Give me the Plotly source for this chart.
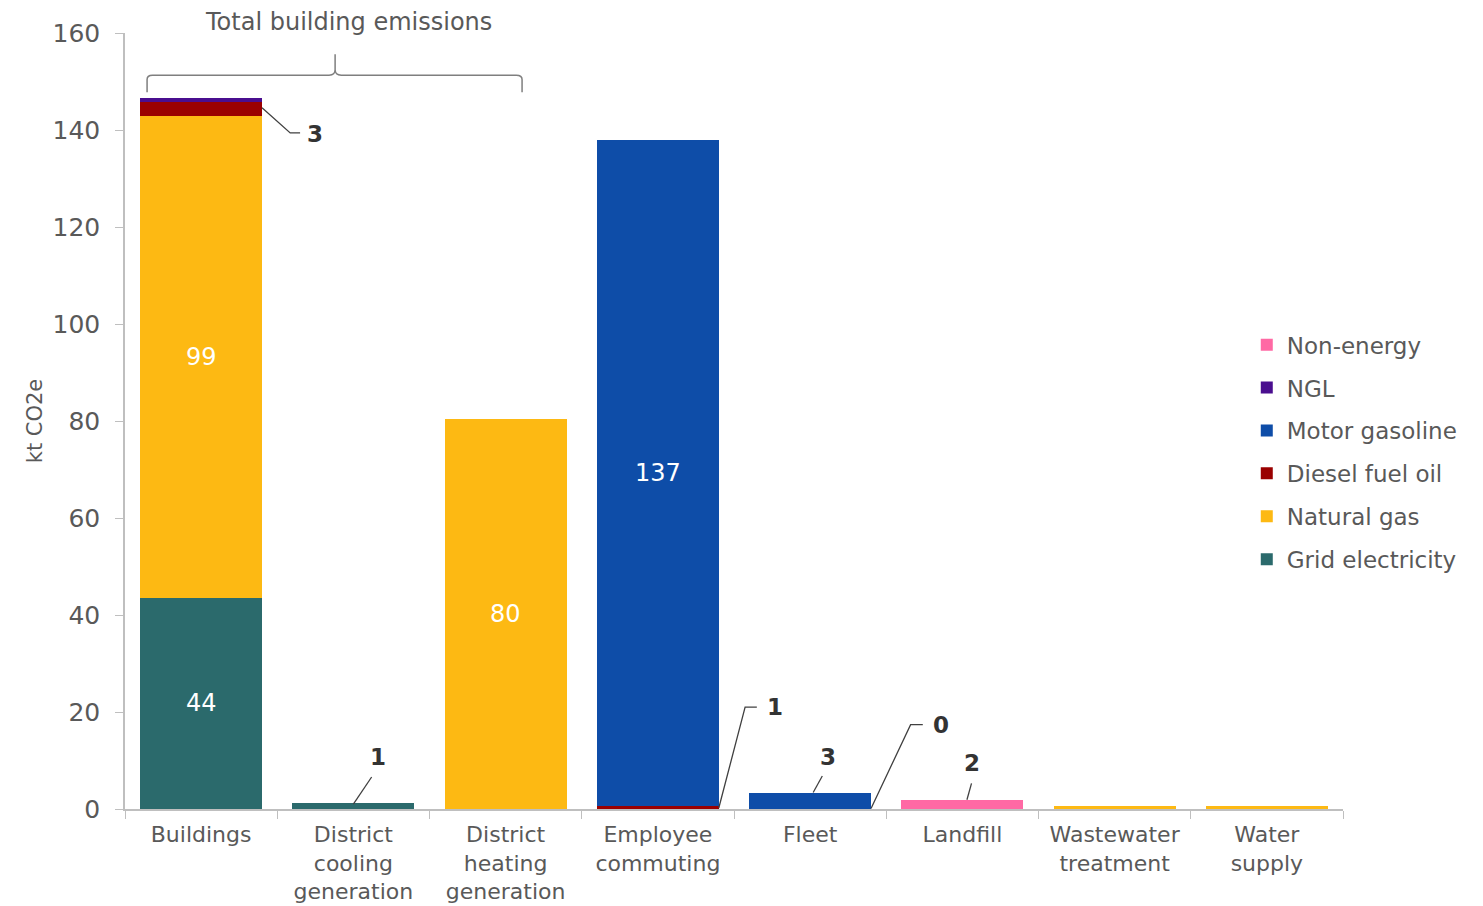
import plotly.graph_objects as go

categories = ["Buildings", "District<br>cooling<br>generation", "District<br>heating<br>generation",
              "Employee<br>commuting", "Fleet", "Landfill", "Wastewater<br>treatment", "Water<br>supply"]

grid_electricity = [43.6, 1.3, 0, 0, 0, 0, 0, 0]
natural_gas = [99.3, 0, 80.4, 0, 0, 0, 0.6, 0.6]
diesel_fuel_oil = [2.9, 0, 0, 0.6, 0.1, 0, 0, 0]
motor_gasoline = [0, 0, 0, 137.3, 3.2, 0, 0, 0]
ngl = [0.8, 0, 0, 0, 0, 0, 0, 0]
non_energy = [0, 0, 0, 0, 0, 1.9, 0, 0]

y_ticks = [0, 20, 40, 60, 80, 100, 120, 140, 160]

FONT = "DejaVu Sans"
GRAY = "#595959"

series = [
    ("Grid electricity", grid_electricity, "#2B6A6C"),
    ("Natural gas", natural_gas, "#FDB913"),
    ("Diesel fuel oil", diesel_fuel_oil, "#9A0000"),
    ("Motor gasoline", motor_gasoline, "#0E4DA8"),
    ("NGL", ngl, "#4A0E8F"),
    ("Non-energy", non_energy, "#FF69A4"),
]

fig = go.Figure()
n = len(series)
for i, (name, vals, col) in enumerate(series):
    fig.add_trace(go.Bar(x=categories, y=vals, name=name, marker_color=col,
                         marker_line_width=0, legendgroup=name, legendrank=n - i))

# white labels inside large segments
inner = [(0, grid_electricity[0] / 2, grid_electricity[0]),
         (0, grid_electricity[0] + natural_gas[0] / 2, natural_gas[0]),
         (2, natural_gas[2] / 2, natural_gas[2]),
         (3, diesel_fuel_oil[3] + motor_gasoline[3] / 2, motor_gasoline[3])]
for xi, yv, v in inner:
    fig.add_annotation(x=xi, y=yv, text=str(round(v)), showarrow=False,
                       font=dict(family=FONT, size=24, color="white"))

# outside labels with leader lines: (value, text x, text y, path)
outer = [
    (diesel_fuel_oil[0], 0.75, 139.2, "M 0.40,144.6 L 0.585,139.4 L 0.65,139.4"),
    (grid_electricity[1], 1.16, 10.7, "M 1.0,1.0 L 1.12,6.6"),
    (diesel_fuel_oil[3], 3.77, 21.0, "M 3.40,0.2 L 3.573,21.0 L 3.65,21.0"),
    (motor_gasoline[4], 4.12, 10.7, "M 4.02,3.4 L 4.08,6.8"),
    (diesel_fuel_oil[4], 4.86, 17.4, "M 4.40,0.1 L 4.66,17.4 L 4.74,17.4"),
    (non_energy[5], 5.06, 9.5, "M 5.03,1.9 L 5.06,5.3"),
]
for v, tx, ty, path in outer:
    fig.add_shape(type="path", path=path, xref="x", yref="y",
                  line=dict(color="#404040", width=1.3))
    fig.add_annotation(x=tx, y=ty, text="<b>" + str(round(v)) + "</b>", showarrow=False,
                       font=dict(family=FONT, size=23, color="#333333"))

# bracket for total building emissions
bracket = ("M -0.355,147.8 L -0.355,150.4 Q -0.355,151.3 -0.32,151.3 L 0.84,151.3 "
           "Q 0.88,151.3 0.88,152.4 L 0.88,155.6 M 0.88,152.4 Q 0.88,151.3 0.92,151.3 "
           "L 2.07,151.3 Q 2.108,151.3 2.108,150.4 L 2.108,147.8")
fig.add_shape(type="path", path=bracket, xref="x", yref="y",
              line=dict(color="#7F7F7F", width=1.5))
fig.add_annotation(x=0.965, xref="x", y=1.014, yref="paper", yanchor="middle",
                   text="Total building emissions", showarrow=False,
                   font=dict(family=FONT, size=24, color=GRAY))

fig.update_layout(
    barmode="stack",
    bargap=0.2,
    width=1475, height=898,
    margin=dict(l=117, r=140, t=25, b=97, autoexpand=False),
    plot_bgcolor="white", paper_bgcolor="white",
    font=dict(family=FONT, size=22, color=GRAY),
    legend=dict(x=0.921, y=0.626, xanchor="left", yanchor="top",
                traceorder="grouped", tracegroupgap=10,
                font=dict(family=FONT, size=23, color=GRAY),
                itemwidth=30, bgcolor="rgba(0,0,0,0)"),
    showlegend=True,
)
fig.update_xaxes(showline=True, linecolor="#BFBFBF", linewidth=1.5, automargin=False,
                 ticks="outside", ticklen=8, tickcolor="#BFBFBF", tickson="boundaries",
                 ticklabelstandoff=5,
                 tickfont=dict(family=FONT, size=22, color=GRAY), showgrid=False)
fig.update_yaxes(range=[0, 160], tickvals=y_ticks, showline=True, linecolor="#BFBFBF",
                 linewidth=1.5, ticks="outside", ticklen=8, tickcolor="#BFBFBF",
                 showgrid=False, zeroline=False, automargin=False, ticklabelstandoff=10,
                 tickfont=dict(family=FONT, size=25, color=GRAY),
                 title=dict(text="kt CO2e", font=dict(family=FONT, size=21, color=GRAY),
                            standoff=4))

fig.write_html("out.html")
